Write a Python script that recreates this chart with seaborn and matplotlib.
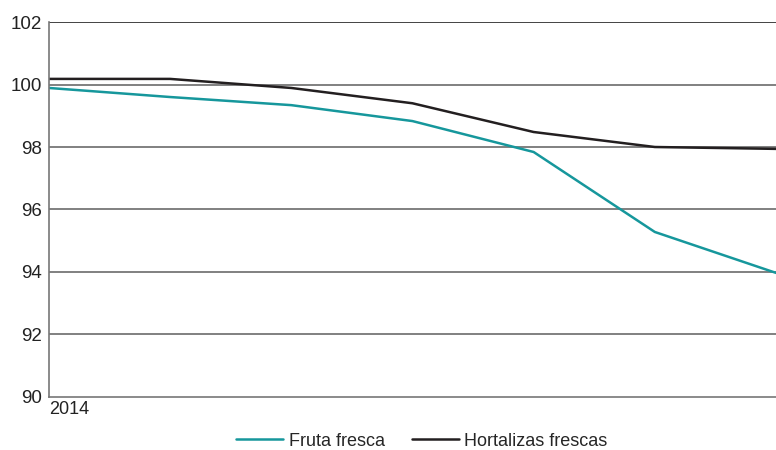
import matplotlib
matplotlib.use("Agg")
import matplotlib.pyplot as plt
import seaborn as sns
import pandas as pd

# Data
periods = [0, 1, 2, 3, 4, 5, 6]
fruta = [99.89, 99.6, 99.34, 98.83, 97.84, 95.28, 93.97]
hortalizas = [100.18, 100.18, 99.89, 99.4, 98.48, 98.0, 97.94]
series_names = ["Fruta fresca", "Hortalizas frescas"]
x_labels = ["2014"]

df = pd.DataFrame({
    "periodo": periods * 2,
    "valor": fruta + hortalizas,
    "serie": [series_names[0]] * len(fruta) + [series_names[1]] * len(hortalizas),
})

sns.set_style("white")
plt.rcParams["font.family"] = ["Liberation Sans", "DejaVu Sans"]

fig = plt.figure(figsize=(7.76, 4.5), dpi=100)
ax = fig.add_axes([0.063, 0.118, 0.937, 0.833])

for y in [92, 94, 96, 98, 100]:
    ax.axhline(y, color="#6b6b6b", lw=1.2, zorder=0)
ax.axhline(102, color="#222222", lw=1.2, zorder=0)

sns.lineplot(data=df, x="periodo", y="valor", hue="serie",
             palette=["#16979c", "#231f20"], linewidth=1.8, ax=ax, legend=True)

ax.set_xlim(0, 6)
ax.set_ylim(90, 102)
ax.set_yticks([90, 92, 94, 96, 98, 100, 102])
ax.tick_params(axis="y", labelsize=13.5, length=0, pad=5, labelcolor="#222222")
ax.set_xticks([0])
ax.set_xticklabels(x_labels, ha="left")
ax.tick_params(axis="x", labelsize=13, length=0, pad=3, labelcolor="#222222")
ax.set_xlabel("")
ax.set_ylabel("")

for side in ["top", "right"]:
    ax.spines[side].set_visible(False)
for side in ["left", "bottom"]:
    ax.spines[side].set_color("#777777")
    ax.spines[side].set_linewidth(1.2)

handles, labels = ax.get_legend_handles_labels()
ax.legend(handles, labels, loc="center", bbox_to_anchor=(0.513, -0.118),
          ncol=2, frameon=False, fontsize=13, handlelength=2.6,
          handletextpad=0.3, columnspacing=1.5, borderaxespad=0,
          borderpad=0)

fig.savefig("out.png", dpi=100)
